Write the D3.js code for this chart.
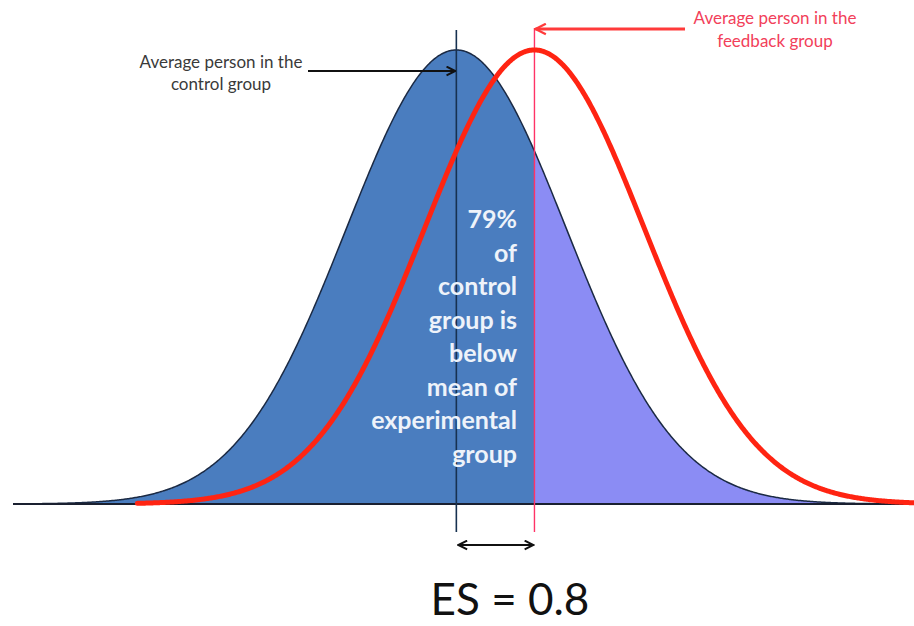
<!DOCTYPE html>
<html>
<head>
<meta charset="utf-8">
<script src="https://cdn.jsdelivr.net/npm/d3@7"></script>
<style>
  body { margin: 0; background: #fff; }
  svg { display: block; }
</style>
</head>
<body>
<div id="chart"></div>
<script>
// two groups, scores in SD units of the control group
var groups = ["control", "feedback"];
var means = [0, 0.71];
var sds = [1, 1];
var zRange = [-4.03, 4.16];
var effectLabel = "ES = 0.8";
var noteLines = ["79%", "of", "control", "group is", "below", "mean of", "experimental", "group"];
var controlLabel = ["Average person in the", "control group"];
var feedbackLabel = ["Average person in the", "feedback group"];

var width = 914, height = 626;

var x = d3.scaleLinear().domain(zRange).range([13, 914]);
var y = d3.scaleLinear().domain([0, 0.3989]).range([504, 50]);

function pdf(z, m, s) {
  return Math.exp(-0.5 * Math.pow((z - m) / s, 2)) / (s * Math.sqrt(2 * Math.PI));
}
function curve(m, s, from, to) {
  return d3.range(from, to, 0.01).concat([to]).map(function(z) {
    return { z: z, d: pdf(z, m, s) };
  });
}

var svg = d3.select("#chart").append("svg")
    .attr("width", width)
    .attr("height", height);

var defs = svg.append("defs");
function marker(id, color, size) {
  defs.append("marker")
      .attr("id", id)
      .attr("viewBox", "0 0 10 10")
      .attr("refX", 9).attr("refY", 5)
      .attr("markerWidth", size).attr("markerHeight", size)
      .attr("markerUnits", "userSpaceOnUse")
      .attr("orient", "auto-start-reverse")
    .append("path")
      .attr("d", "M1,1 L9,5 L1,9")
      .attr("fill", "none")
      .attr("stroke", color)
      .attr("stroke-width", 1.8);
}
marker("arrBlack", "#111", 11);
marker("arrRed", "#ff3a3a", 13);

var area = d3.area()
    .x(function(d) { return x(d.z); })
    .y0(y(0))
    .y1(function(d) { return y(d.d); });
var line = d3.line()
    .x(function(d) { return x(d.z); })
    .y(function(d) { return y(d.d); });

// control group fill, split at the feedback mean
svg.append("path")
    .datum(curve(means[0], sds[0], zRange[0], means[1]))
    .attr("d", area)
    .attr("fill", "#4a7dbf");
svg.append("path")
    .datum(curve(means[0], sds[0], means[1], zRange[1]))
    .attr("d", area)
    .attr("fill", "#8b8cf4");
svg.append("path")
    .datum(curve(means[0], sds[0], zRange[0], zRange[1]))
    .attr("d", line)
    .attr("fill", "none")
    .attr("stroke", "#1b2a44")
    .attr("stroke-width", 1.5);

// baseline
svg.append("line")
    .attr("x1", x(zRange[0])).attr("x2", x(zRange[1]))
    .attr("y1", y(0)).attr("y2", y(0))
    .attr("stroke", "#1a2030")
    .attr("stroke-width", 2);

// mean lines
svg.append("line")
    .attr("x1", x(means[0])).attr("x2", x(means[0]))
    .attr("y1", 30).attr("y2", 532)
    .attr("stroke", "#173150")
    .attr("stroke-width", 1.6);
svg.append("line")
    .attr("x1", x(means[1])).attr("x2", x(means[1]))
    .attr("y1", 28).attr("y2", 532)
    .attr("stroke", "#ff3366")
    .attr("stroke-width", 1.4);

// white note inside the fill
svg.append("g").selectAll("text")
    .data(noteLines)
  .enter().append("text")
    .attr("x", 517)
    .attr("y", function(d, i) { return 228 + i * 33.5; })
    .attr("text-anchor", "end")
    .attr("fill", "#eef3fa")
    .style("font-family", "Lato, sans-serif")
    .style("font-weight", "bold")
    .style("font-size", "25px")
    .text(function(d) { return d; });

// feedback group curve
svg.append("path")
    .datum(curve(means[1], sds[1], -2.9, zRange[1]))
    .attr("d", line)
    .attr("fill", "none")
    .attr("stroke", "#ff2412")
    .attr("stroke-width", 5)
    .attr("stroke-linecap", "round");

// labels and arrows
svg.append("g").selectAll("text")
    .data(controlLabel)
  .enter().append("text")
    .attr("x", 221)
    .attr("y", function(d, i) { return 68 + i * 22; })
    .attr("text-anchor", "middle")
    .attr("fill", "#3a3a3a")
    .style("font-family", "Lato, sans-serif")
    .style("font-size", "17px")
    .text(function(d) { return d; });
svg.append("line")
    .attr("x1", 308).attr("x2", x(means[0]) - 1)
    .attr("y1", 71).attr("y2", 71)
    .attr("stroke", "#111")
    .attr("stroke-width", 2)
    .attr("marker-end", "url(#arrBlack)");

svg.append("g").selectAll("text")
    .data(feedbackLabel)
  .enter().append("text")
    .attr("x", 775)
    .attr("y", function(d, i) { return 24 + i * 23; })
    .attr("text-anchor", "middle")
    .attr("fill", "#f2405a")
    .style("font-family", "Lato, sans-serif")
    .style("font-size", "17px")
    .text(function(d) { return d; });
svg.append("line")
    .attr("x1", 685).attr("x2", x(means[1]) + 1)
    .attr("y1", 29).attr("y2", 29)
    .attr("stroke", "#ff3a3a")
    .attr("stroke-width", 3)
    .attr("marker-end", "url(#arrRed)");

// effect size arrow and label
svg.append("line")
    .attr("x1", x(means[0]) + 2).attr("x2", x(means[1]) - 1)
    .attr("y1", 545).attr("y2", 545)
    .attr("stroke", "#111")
    .attr("stroke-width", 2)
    .attr("marker-start", "url(#arrBlack)")
    .attr("marker-end", "url(#arrBlack)");

svg.append("text")
    .attr("x", 510)
    .attr("y", 615)
    .attr("text-anchor", "middle")
    .attr("fill", "#111")
    .style("font-family", "Lato, sans-serif")
    .style("font-size", "44px")
    .text(effectLabel);
</script>
</body>
</html>
